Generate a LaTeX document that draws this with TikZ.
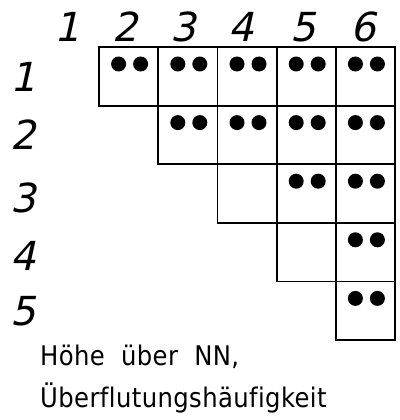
\documentclass[tikz,border=0pt]{standalone}
\usepackage{fontspec}
\setmainfont{DejaVu Sans}
\newfontfamily\handdigits[FakeSlant=0.22]{DejaVu Sans}
\newfontfamily\handtext[Ligatures=NoCommon,LetterSpace=1.5,WordSpace=2]{DejaVu Sans Condensed}
\usepackage{tikz}

\begin{document}
\begin{tikzpicture}[x=1pt,y=-1pt,
    cellbox/.style={draw,line width=1.8pt,minimum width=59.2pt,minimum height=58.6pt,
      inner sep=0pt,outer sep=0pt,anchor=north west},
    pip/.style={circle,fill,inner sep=0pt,minimum size=15pt},
    digit/.style={font=\handdigits\fontsize{40}{40}\selectfont,inner sep=0pt},
    caption/.style={font=\handtext\fontsize{27}{27}\selectfont,inner sep=0pt,anchor=base west},
  ]
    \useasboundingbox (0,0) rectangle (399,420);
    % triangle of cells
    \foreach \r in {1,...,5} {
      \pgfmathtruncatemacro\first{\r+1}
      \foreach \c in {\first,...,6}
        \node[cellbox] (cell-\r-\c) at ({99+(\c-2)*59.2},{47+(\r-1)*58.6}) {};
    }
    % two dots per filled cell
    \foreach \r/\c in {1/2,1/3,1/4,1/5,1/6,2/3,2/4,2/5,2/6,3/5,3/6,4/6,5/6} {
      \node[pip] (pa-\r-\c) at ([xshift=-10pt,yshift=-17pt]cell-\r-\c.north) {};
      \node[pip] (pb-\r-\c) at ([xshift=12pt,yshift=-17pt]cell-\r-\c.north) {};
    }
    % column numbers
    \foreach \c/\x in {1/67,2/125,3/183,4/241,5/303,6/363}
      \node[digit] (col-\c) at (\x,27) {\c};
    % row numbers
    \foreach \r/\y in {1/77,2/135,3/198,4/256,5/311}
      \node[digit] (row-\r) at (23,\y) {\r};
    \node[caption] (line-a) at (40,365) {Höhe über NN,};
    \node[caption] (line-b) at (40,407) {Überflutungshäufigkeit};
\end{tikzpicture}
\end{document}
